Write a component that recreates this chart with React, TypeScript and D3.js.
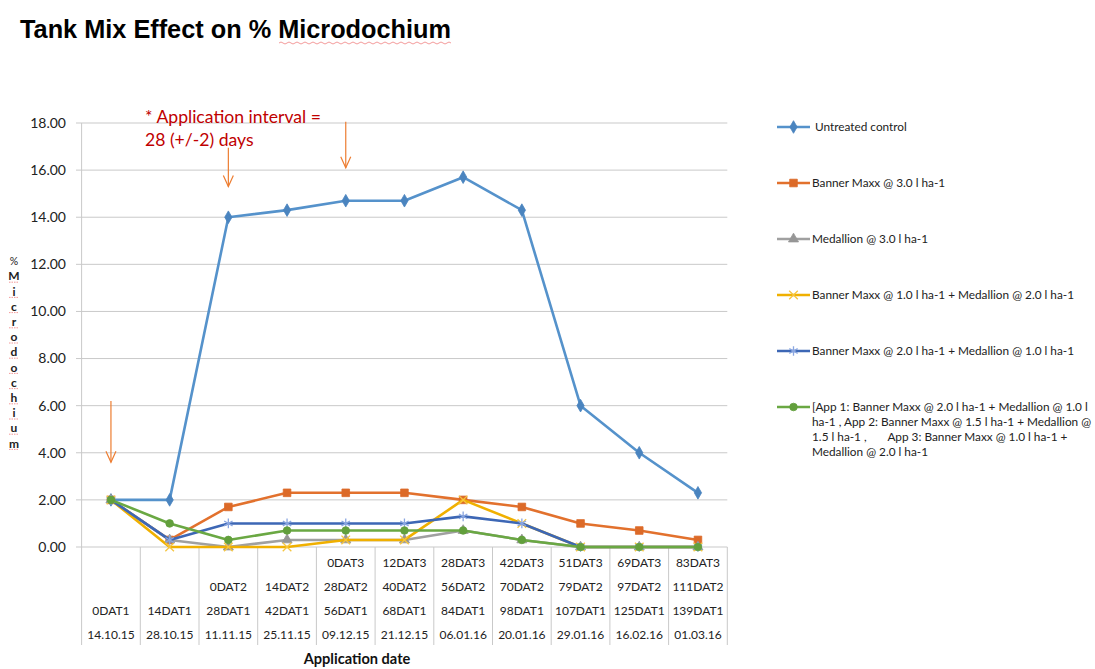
import React from 'react';
import * as d3 from 'd3';

const WIDTH = 1095;
const HEIGHT = 669;

const dates = ['14.10.15', '28.10.15', '11.11.15', '25.11.15', '09.12.15', '21.12.15', '06.01.16', '20.01.16', '29.01.16', '16.02.16', '01.03.16'];
const dat1 = ['0DAT1', '14DAT1', '28DAT1', '42DAT1', '56DAT1', '68DAT1', '84DAT1', '98DAT1', '107DAT1', '125DAT1', '139DAT1'];
const dat2 = ['', '', '0DAT2', '14DAT2', '28DAT2', '40DAT2', '56DAT2', '70DAT2', '79DAT2', '97DAT2', '111DAT2'];
const dat3 = ['', '', '', '', '0DAT3', '12DAT3', '28DAT3', '42DAT3', '51DAT3', '69DAT3', '83DAT3'];

const untreated = [2, 2, 14, 14.3, 14.7, 14.7, 15.7, 14.3, 6, 4, 2.3];
const banner3 = [2, 0.3, 1.7, 2.3, 2.3, 2.3, 2.0, 1.7, 1.0, 0.7, 0.3];
const medallion3 = [2, 0.3, 0, 0.3, 0.3, 0.3, 0.7, 0.3, 0, 0, 0];
const banner1Med2 = [2, 0, 0, 0, 0.3, 0.3, 2.0, 1.0, 0, 0, 0];
const banner2Med1 = [2, 0.3, 1.0, 1.0, 1.0, 1.0, 1.3, 1.0, 0, 0, 0];
const programme = [2, 1.0, 0.3, 0.7, 0.7, 0.7, 0.7, 0.3, 0, 0, 0];

const yTicks = [0, 2, 4, 6, 8, 10, 12, 14, 16, 18];

// application arrows: category index, start value, end value
const arrows = [
    {cat: 0, from: 6.2, to: 3.6},
    {cat: 2, from: 16.95, to: 15.3},
    {cat: 4, from: 18.05, to: 16.1},
];

type MarkerKind = 'diamond' | 'square' | 'triangle' | 'times' | 'asterisk' | 'circle';

const series: {name: string[]; values: number[]; color: string; marker: MarkerKind; markerColor: string}[] = [
    {name: ['Untreated control'], values: untreated, color: '#5592cb', marker: 'diamond', markerColor: '#4a84bf'},
    {name: ['Banner Maxx @ 3.0 l ha-1'], values: banner3, color: '#e2712d', marker: 'square', markerColor: '#dc6a28'},
    {name: ['Medallion @ 3.0 l ha-1'], values: medallion3, color: '#a0a0a0', marker: 'triangle', markerColor: '#969696'},
    {name: ['Banner Maxx @ 1.0 l ha-1 + Medallion @ 2.0 l ha-1'], values: banner1Med2, color: '#f0b000', marker: 'times', markerColor: '#f5c540'},
    {name: ['Banner Maxx @ 2.0 l ha-1 + Medallion @ 1.0 l ha-1'], values: banner2Med1, color: '#3d67b5', marker: 'asterisk', markerColor: '#8aa6e0'},
    {
        name: [
            '[App 1: Banner Maxx @ 2.0 l ha-1 + Medallion @ 1.0 l',
            'ha-1 , App 2: Banner Maxx @ 1.5 l ha-1 + Medallion @',
            '1.5 l ha-1 ,\u00a0\u00a0\u00a0\u00a0\u00a0\u00a0 App 3: Banner Maxx @ 1.0 l ha-1 +',
            'Medallion @ 2.0 l ha-1',
        ],
        values: programme, color: '#6aa843', marker: 'circle', markerColor: '#629f3c',
    },
];

const yLabel = ['%', 'M', 'i', 'c', 'r', 'o', 'd', 'o', 'c', 'h', 'i', 'u', 'm'];

const FONT = 'Lato, "Open Sans", sans-serif';

const symbolFor = (kind: MarkerKind) => {
    switch (kind) {
        case 'diamond': return d3.symbol(d3.symbolDiamond, 46)();
        case 'square': return d3.symbol(d3.symbolSquare, 58)();
        case 'triangle': return d3.symbol(d3.symbolTriangle, 44)();
        case 'times': return d3.symbol(d3.symbolTimes, 50)();
        case 'asterisk': return d3.symbol(d3.symbolAsterisk, 66)();
        default: return d3.symbol(d3.symbolCircle, 46)();
    }
};

const Marker = ({kind, x, y, color}: {kind: MarkerKind; x: number; y: number; color: string}) => {
    const stroked = kind === 'times' || kind === 'asterisk';
    return (
        <path
            d={symbolFor(kind) || ''}
            transform={`translate(${x},${y})`}
            fill={stroked ? 'none' : color}
            stroke={color}
            strokeWidth={stroked ? 1.3 : 0.8}
        />
    );
};

export default function App() {
    const idx = d3.range(dates.length).map(String);
    const x = d3.scaleBand<string>().domain(idx).range([81.6, 727.3]);
    const y = d3.scaleLinear().domain([0, 18]).range([547, 123]);
    const cx = (i: number) => (x(String(i)) ?? 0) + x.bandwidth() / 2;
    const line = d3.line<number>().x((_, i) => cx(i)).y(d => y(d));

    const tableRows = [dat3, dat2, dat1, dates];
    const rowY = [563, 587, 611, 635];
    const boundaries = d3.range(dates.length + 1).map(i => 81.6 + i * x.bandwidth());

    const legendY = [127, 183, 239, 295, 351, 407];

    return (
        <svg width={WIDTH} height={HEIGHT} style={{display: 'block', position: 'absolute', left: 0, top: 0}}>
            <rect width={WIDTH} height={HEIGHT} fill="#fff"/>

            {/* title */}
            <text x={20} y={38} fontFamily='"Liberation Sans", Arial, sans-serif' fontWeight="bold" fontSize={25.3}>
                Tank Mix Effect on % Microdochium
            </text>
            <path d="M279,43 q2,-2 4,0 t4,0 t4,0 t4,0 t4,0 t4,0 t4,0 t4,0 t4,0 t4,0 t4,0 t4,0 t4,0 t4,0 t4,0 t4,0 t4,0 t4,0 t4,0 t4,0 t4,0 t4,0 t4,0 t4,0 t4,0 t4,0 t4,0 t4,0 t4,0 t4,0 t4,0 t4,0 t4,0 t4,0 t4,0 t4,0 t4,0 t4,0 t4,0 t4,0 t4,0 t4,0 t4,0"
                  fill="none" stroke="#f08080" strokeWidth={0.8}/>

            {/* gridlines and y ticks */}
            {yTicks.map(t => (
                <g key={t}>
                    <line x1={76} x2={727.3} y1={y(t)} y2={y(t)} stroke="#c9c9c9" strokeWidth={1}/>
                    <text x={66} y={y(t)} dy="0.35em" textAnchor="end" fontFamily={FONT} fontSize={14} fill="#222">
                        {t.toFixed(2)}
                    </text>
                </g>
            ))}

            {/* axis line and table dividers */}
            <line x1={81.6} x2={81.6} y1={123} y2={547} stroke="#c9c9c9"/>
            {boundaries.map((b, i) => (
                <line key={i} x1={b} x2={b} y1={547} y2={645} stroke="#c9c9c9"/>
            ))}
            {tableRows.map((row, r) => row.map((label, i) => (
                <text key={`${r}-${i}`} x={cx(i)} y={rowY[r]} dy="0.35em" textAnchor="middle"
                      fontFamily={FONT} fontSize={12} fill="#222">{label}</text>
            )))}

            <text x={357} y={659} dy="0.35em" textAnchor="middle" fontFamily={FONT} fontWeight="bold" fontSize={14.6} fill="#111">
                Application date
            </text>

            {/* y axis label, stacked letters */}
            {yLabel.map((c, i) => (
                <g key={i}>
                    <text x={14} y={261 + i * 15.2} dy="0.35em" textAnchor="middle" fontFamily={FONT}
                          fontWeight={i === 0 ? 'normal' : 'bold'} fontSize={i === 0 ? 10.5 : 12} fill="#222">{c}</text>
                    {i > 0 && (
                        <line x1={9} x2={19} y1={267 + i * 15.2} y2={267 + i * 15.2} stroke="#f08080"
                              strokeWidth={0.8} strokeDasharray="1.5,1"/>
                    )}
                </g>
            ))}

            {/* series */}
            {series.map(s => (
                <g key={s.name[0]}>
                    <path d={line(s.values) || ''} fill="none" stroke={s.color} strokeWidth={2.6} strokeLinejoin="round"/>
                    {s.values.map((v, i) => (
                        <Marker key={i} kind={s.marker} x={cx(i)} y={y(v)} color={s.markerColor}/>
                    ))}
                </g>
            ))}

            {/* application arrows */}
            {arrows.map((a, i) => {
                const ax = cx(a.cat);
                const y0 = y(a.from);
                const y1 = y(a.to);
                return (
                    <g key={i} stroke="#ed7d31" strokeWidth={1.2} fill="none">
                        <line x1={ax} x2={ax} y1={y0} y2={y1}/>
                        <path d={`M${ax - 5},${y1 - 11} L${ax},${y1} L${ax + 5},${y1 - 11}`}/>
                    </g>
                );
            })}

            {/* annotation */}
            <text fontFamily={FONT} fontSize={17.6} fill="#c00000">
                <tspan x={145} y={123}>* Application interval =</tspan>
                <tspan x={145} y={146}>28 (+/-2) days</tspan>
            </text>

            {/* legend */}
            {series.map((s, i) => (
                <g key={i}>
                    <line x1={777} x2={810} y1={legendY[i]} y2={legendY[i]} stroke={s.color} strokeWidth={2.6}/>
                    <Marker kind={s.marker} x={793.5} y={legendY[i]} color={s.markerColor}/>
                    <text fontFamily={FONT} fontSize={11.8} fill="#222">
                        {s.name.map((n, k) => (
                            <tspan key={k} x={i === 0 ? 815 : 812} y={legendY[i] + k * 15} dy="0.35em">{n}</tspan>
                        ))}
                    </text>
                </g>
            ))}
        </svg>
    );
}
